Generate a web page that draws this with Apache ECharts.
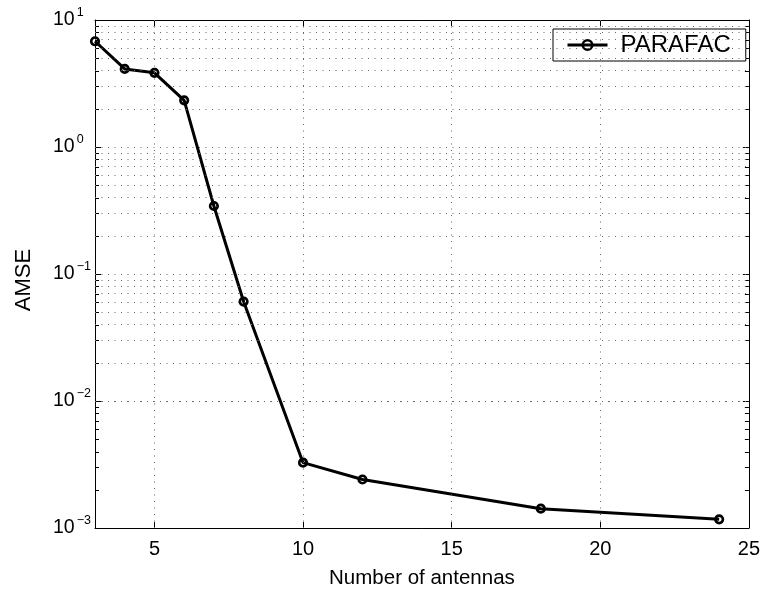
<!DOCTYPE html>
<html>
<head>
<meta charset="utf-8">
<script src="https://cdn.jsdelivr.net/npm/echarts@6/dist/echarts.min.js"></script>
<style>
  html, body { margin: 0; padding: 0; background: #fff; }
  #chart { width: 763px; height: 594px; }
</style>
</head>
<body>
<div id="chart"></div>
<script>
// Estimation error against array size
const antennas = [3, 4, 5, 6, 7, 8, 10, 12, 18, 24];
const amse = [6.8, 4.12, 3.84, 2.33, 0.343, 0.0607, 0.00327, 0.00241, 0.00142, 0.00117];
const seriesName = 'PARAFAC';

// Axis ranges and tick positions
const xRange = [3, 25];
const xTicks = [5, 10, 15, 20, 25];
const xGridValues = [5, 10, 15, 20];
const yRange = [0.001, 10];
const decades = [0.001, 0.01, 0.1, 1];

const FONT = '"Liberation Sans", Arial, Helvetica, sans-serif';

// Log grid: 1..9 x 10^k strictly inside the y range
const yGridValues = [];
const yMinorValues = [];
decades.forEach(function (d) {
  for (let m = 1; m <= 9; m++) {
    const v = +(m * d).toPrecision(3);
    if (v > yRange[0] && v < yRange[1]) {
      yGridValues.push(v);
      if (m > 1) yMinorValues.push(v);
    }
  }
});

// "10" with a raised exponent
function powerLabel(v) {
  const e = Math.round(Math.log10(v));
  const exp = e < 0 ? '\u2212' + (-e) : String(e);
  return '{b|10}{e|' + exp + '}';
}

const gridLine = { type: [1, 5.5], color: '#666', width: 1 };

const chart = echarts.init(document.getElementById('chart'), null, { renderer: 'canvas' });

chart.setOption({
  animation: false,
  backgroundColor: '#fff',
  textStyle: { fontFamily: FONT },
  grid: { left: 95, right: 14, top: 20, bottom: 57, containLabel: false },
  legend: {
    data: [seriesName],
    left: 553,
    top: 29,
    selectedMode: false,
    itemWidth: 40,
    itemHeight: 12,
    padding: [4, 15, 4, 13],
    borderColor: '#000',
    borderWidth: 1,
    backgroundColor: '#fff',
    lineStyle: { width: 3, color: '#000' },
    itemStyle: { color: 'rgba(255,255,255,0)', borderColor: '#000', borderWidth: 2.5 },
    textStyle: { fontSize: 24, lineHeight: 22, color: '#000', fontFamily: FONT, padding: [0, 0, 0, 8] }
  },
  xAxis: [
    {
      type: 'value',
      min: xRange[0],
      max: xRange[1],
      position: 'bottom',
      axisLine: { show: true, lineStyle: { color: '#000', width: 1 } },
      axisTick: { show: true, inside: true, length: 6, customValues: xTicks, lineStyle: { color: '#000' } },
      axisLabel: { customValues: xTicks, fontSize: 20, color: '#000', margin: 11, fontFamily: FONT },
      splitLine: { show: false },
      name: 'Number of antennas',
      nameLocation: 'middle',
      nameGap: 40,
      nameTextStyle: { fontSize: 20.5, color: '#000', fontFamily: FONT }
    },
    {
      type: 'value',
      min: xRange[0],
      max: xRange[1],
      position: 'top',
      axisLine: { show: true, onZero: false, lineStyle: { color: '#000', width: 1 } },
      axisTick: { show: true, inside: true, length: 6, customValues: xTicks, lineStyle: { color: '#000' } },
      axisLabel: { show: false },
      splitLine: { show: false }
    }
  ],
  yAxis: [
    {
      type: 'log',
      logBase: 10,
      min: yRange[0],
      max: yRange[1],
      position: 'left',
      axisLine: { show: true, lineStyle: { color: '#000', width: 1 } },
      axisTick: { show: true, inside: true, length: 6, lineStyle: { color: '#000' } },
      axisLabel: {
        formatter: powerLabel,
        margin: 42,
        align: 'left',
        color: '#000',
        rich: {
          b: { fontSize: 19.5, lineHeight: 20, color: '#000', fontFamily: FONT },
          e: { fontSize: 12.5, lineHeight: 13, padding: [0, 0, 15, 2], color: '#000', fontFamily: FONT }
        }
      },
      splitLine: { show: false },
      name: 'AMSE',
      nameLocation: 'middle',
      nameGap: 60,
      nameTextStyle: { fontSize: 22, color: '#000', fontFamily: FONT, padding: [0, 12, 0, 0] }
    },
    {
      type: 'log',
      logBase: 10,
      min: yRange[0],
      max: yRange[1],
      position: 'right',
      axisLine: { show: true, onZero: false, lineStyle: { color: '#000', width: 1 } },
      axisTick: { show: true, inside: true, length: 6, lineStyle: { color: '#000' } },
      axisLabel: { show: false },
      splitLine: { show: false }
    }
  ],
  series: [
    {
      // dotted grid plus the short minor ticks on both y edges
      name: 'grid',
      type: 'custom',
      silent: true,
      z: 1,
      xAxisIndex: 0,
      yAxisIndex: 0,
      data: yMinorValues.map(function (v) { return [xRange[0], v]; }),
      renderItem: function (params, api) {
        const y = Math.round(api.coord([api.value(0), api.value(1)])[1]) + 0.5;
        const cs = params.coordSys;
        const l = cs.x, r = cs.x + cs.width;
        return {
          type: 'group',
          children: [
            { type: 'line', shape: { x1: l, y1: y, x2: l + 4, y2: y }, style: { stroke: '#000', lineWidth: 1 } },
            { type: 'line', shape: { x1: r - 4, y1: y, x2: r, y2: y }, style: { stroke: '#000', lineWidth: 1 } }
          ]
        };
      },
      markLine: {
        silent: true,
        symbol: 'none',
        label: { show: false },
        lineStyle: gridLine,
        emphasis: { disabled: true },
        data: xGridValues.map(function (v) { return { xAxis: v }; })
          .concat(yGridValues.map(function (v) { return { yAxis: v }; }))
      }
    },
    {
      name: seriesName,
      type: 'line',
      z: 3,
      xAxisIndex: 0,
      yAxisIndex: 0,
      data: antennas.map(function (x, i) { return [x, amse[i]]; }),
      symbol: 'circle',
      symbolSize: 7.5,
      showAllSymbol: true,
      lineStyle: { color: '#000', width: 3 },
      itemStyle: { color: 'rgba(255,255,255,0)', borderColor: '#000', borderWidth: 2.7 },
      emphasis: { disabled: true }
    }
  ]
});
</script>
</body>
</html>
